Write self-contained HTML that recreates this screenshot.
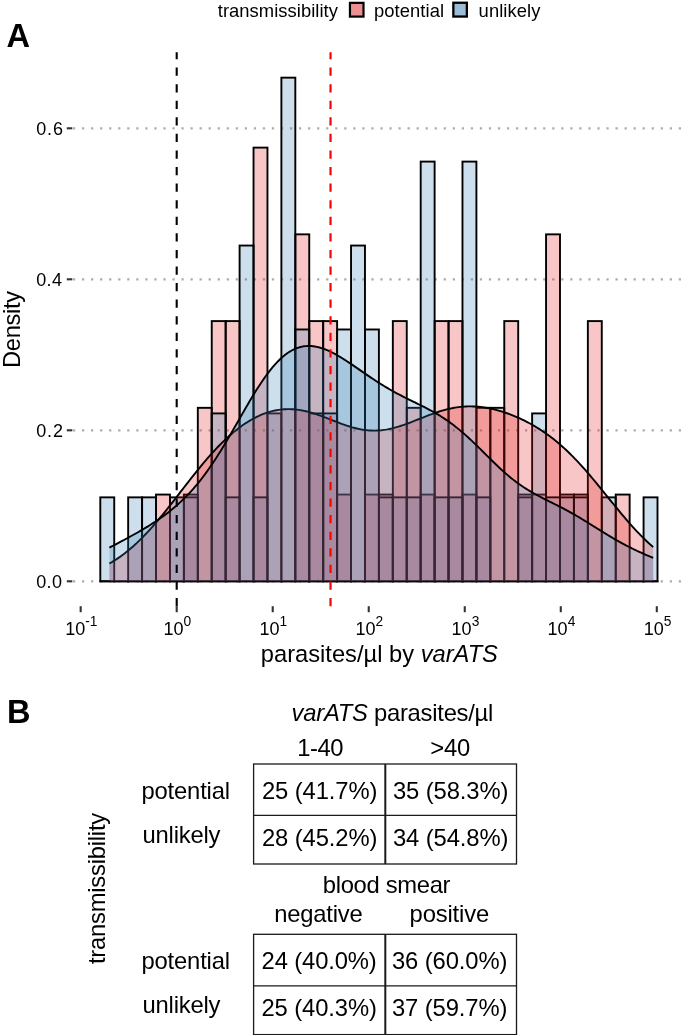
<!DOCTYPE html>
<html><head><meta charset="utf-8"><style>
html,body{margin:0;padding:0;background:#fff;}
body{width:685px;height:1035px;overflow:hidden;position:relative;}
svg{position:absolute;left:0;top:0;will-change:transform;}
text{font-family:"Liberation Sans",sans-serif;fill:#000;}
.ax{font-size:18px;fill:#000;}
.sup{font-size:13.8px;}
.ttl{font-size:23.7px;}
.leg{font-size:18.4px;}
.big{font-size:32.6px;font-weight:bold;}
.tb{font-size:23.8px;}
.it{font-style:italic;}
</style></head><body>
<svg width="685" height="1035" viewBox="0 0 685 1035">
<line x1="72.95" x2="685" y1="581.30" y2="581.30" stroke="#adadad" stroke-width="2.3" stroke-dasharray="2.26 6.782"/>
<line x1="72.95" x2="685" y1="430.30" y2="430.30" stroke="#adadad" stroke-width="2.3" stroke-dasharray="2.26 6.782"/>
<line x1="72.95" x2="685" y1="279.30" y2="279.30" stroke="#adadad" stroke-width="2.3" stroke-dasharray="2.26 6.782"/>
<line x1="72.95" x2="685" y1="128.30" y2="128.30" stroke="#adadad" stroke-width="2.3" stroke-dasharray="2.26 6.782"/>
<line x1="100.30" x2="114.23" y1="581.3" y2="581.3" stroke="#000" stroke-width="1.9" stroke-linecap="square"/>
<line x1="114.23" x2="128.16" y1="581.3" y2="581.3" stroke="#000" stroke-width="1.9" stroke-linecap="square"/>
<line x1="128.16" x2="142.09" y1="581.3" y2="581.3" stroke="#000" stroke-width="1.9" stroke-linecap="square"/>
<line x1="142.09" x2="156.02" y1="581.3" y2="581.3" stroke="#000" stroke-width="1.9" stroke-linecap="square"/>
<rect x="156.02" y="494.56" width="13.93" height="86.74" fill="rgba(228,26,28,0.25)" stroke="#000" stroke-width="1.9"/>
<line x1="169.95" x2="183.88" y1="581.3" y2="581.3" stroke="#000" stroke-width="1.9" stroke-linecap="square"/>
<rect x="183.88" y="494.56" width="13.93" height="86.74" fill="rgba(228,26,28,0.25)" stroke="#000" stroke-width="1.9"/>
<rect x="197.81" y="407.83" width="13.93" height="173.47" fill="rgba(228,26,28,0.25)" stroke="#000" stroke-width="1.9"/>
<rect x="211.74" y="321.09" width="13.93" height="260.21" fill="rgba(228,26,28,0.25)" stroke="#000" stroke-width="1.9"/>
<rect x="225.67" y="321.09" width="13.93" height="260.21" fill="rgba(228,26,28,0.25)" stroke="#000" stroke-width="1.9"/>
<line x1="239.60" x2="253.53" y1="581.3" y2="581.3" stroke="#000" stroke-width="1.9" stroke-linecap="square"/>
<rect x="253.53" y="147.61" width="13.93" height="433.69" fill="rgba(228,26,28,0.25)" stroke="#000" stroke-width="1.9"/>
<line x1="267.46" x2="281.39" y1="581.3" y2="581.3" stroke="#000" stroke-width="1.9" stroke-linecap="square"/>
<line x1="281.39" x2="295.32" y1="581.3" y2="581.3" stroke="#000" stroke-width="1.9" stroke-linecap="square"/>
<rect x="295.32" y="234.35" width="13.93" height="346.95" fill="rgba(228,26,28,0.25)" stroke="#000" stroke-width="1.9"/>
<rect x="309.25" y="321.09" width="13.93" height="260.21" fill="rgba(228,26,28,0.25)" stroke="#000" stroke-width="1.9"/>
<rect x="323.18" y="321.09" width="13.93" height="260.21" fill="rgba(228,26,28,0.25)" stroke="#000" stroke-width="1.9"/>
<rect x="337.11" y="494.56" width="13.93" height="86.74" fill="rgba(228,26,28,0.25)" stroke="#000" stroke-width="1.9"/>
<line x1="351.04" x2="364.97" y1="581.3" y2="581.3" stroke="#000" stroke-width="1.9" stroke-linecap="square"/>
<rect x="364.97" y="494.56" width="13.93" height="86.74" fill="rgba(228,26,28,0.25)" stroke="#000" stroke-width="1.9"/>
<rect x="378.90" y="494.56" width="13.93" height="86.74" fill="rgba(228,26,28,0.25)" stroke="#000" stroke-width="1.9"/>
<rect x="392.83" y="321.09" width="13.93" height="260.21" fill="rgba(228,26,28,0.25)" stroke="#000" stroke-width="1.9"/>
<rect x="406.76" y="407.83" width="13.93" height="173.47" fill="rgba(228,26,28,0.25)" stroke="#000" stroke-width="1.9"/>
<rect x="420.69" y="494.56" width="13.93" height="86.74" fill="rgba(228,26,28,0.25)" stroke="#000" stroke-width="1.9"/>
<rect x="434.62" y="321.09" width="13.93" height="260.21" fill="rgba(228,26,28,0.25)" stroke="#000" stroke-width="1.9"/>
<rect x="448.55" y="321.09" width="13.93" height="260.21" fill="rgba(228,26,28,0.25)" stroke="#000" stroke-width="1.9"/>
<rect x="462.48" y="494.56" width="13.93" height="86.74" fill="rgba(228,26,28,0.25)" stroke="#000" stroke-width="1.9"/>
<rect x="476.41" y="407.83" width="13.93" height="173.47" fill="rgba(228,26,28,0.25)" stroke="#000" stroke-width="1.9"/>
<rect x="490.34" y="407.83" width="13.93" height="173.47" fill="rgba(228,26,28,0.25)" stroke="#000" stroke-width="1.9"/>
<rect x="504.27" y="321.09" width="13.93" height="260.21" fill="rgba(228,26,28,0.25)" stroke="#000" stroke-width="1.9"/>
<rect x="518.20" y="494.56" width="13.93" height="86.74" fill="rgba(228,26,28,0.25)" stroke="#000" stroke-width="1.9"/>
<rect x="532.13" y="494.56" width="13.93" height="86.74" fill="rgba(228,26,28,0.25)" stroke="#000" stroke-width="1.9"/>
<rect x="546.06" y="234.35" width="13.93" height="346.95" fill="rgba(228,26,28,0.25)" stroke="#000" stroke-width="1.9"/>
<rect x="559.99" y="494.56" width="13.93" height="86.74" fill="rgba(228,26,28,0.25)" stroke="#000" stroke-width="1.9"/>
<rect x="573.92" y="494.56" width="13.93" height="86.74" fill="rgba(228,26,28,0.25)" stroke="#000" stroke-width="1.9"/>
<rect x="587.85" y="321.09" width="13.93" height="260.21" fill="rgba(228,26,28,0.25)" stroke="#000" stroke-width="1.9"/>
<line x1="601.78" x2="615.71" y1="581.3" y2="581.3" stroke="#000" stroke-width="1.9" stroke-linecap="square"/>
<rect x="615.71" y="494.56" width="13.93" height="86.74" fill="rgba(228,26,28,0.25)" stroke="#000" stroke-width="1.9"/>
<line x1="629.64" x2="643.57" y1="581.3" y2="581.3" stroke="#000" stroke-width="1.9" stroke-linecap="square"/>
<line x1="643.57" x2="657.50" y1="581.3" y2="581.3" stroke="#000" stroke-width="1.9" stroke-linecap="square"/>
<rect x="100.30" y="497.36" width="13.93" height="83.94" fill="rgba(55,126,184,0.25)" stroke="#000" stroke-width="1.9"/>
<line x1="114.23" x2="128.16" y1="581.3" y2="581.3" stroke="#000" stroke-width="1.9" stroke-linecap="square"/>
<rect x="128.16" y="497.36" width="13.93" height="83.94" fill="rgba(55,126,184,0.25)" stroke="#000" stroke-width="1.9"/>
<rect x="142.09" y="497.36" width="13.93" height="83.94" fill="rgba(55,126,184,0.25)" stroke="#000" stroke-width="1.9"/>
<line x1="156.02" x2="169.95" y1="581.3" y2="581.3" stroke="#000" stroke-width="1.9" stroke-linecap="square"/>
<rect x="169.95" y="497.36" width="13.93" height="83.94" fill="rgba(55,126,184,0.25)" stroke="#000" stroke-width="1.9"/>
<rect x="183.88" y="497.36" width="13.93" height="83.94" fill="rgba(55,126,184,0.25)" stroke="#000" stroke-width="1.9"/>
<line x1="197.81" x2="211.74" y1="581.3" y2="581.3" stroke="#000" stroke-width="1.9" stroke-linecap="square"/>
<rect x="211.74" y="413.42" width="13.93" height="167.88" fill="rgba(55,126,184,0.25)" stroke="#000" stroke-width="1.9"/>
<rect x="225.67" y="497.36" width="13.93" height="83.94" fill="rgba(55,126,184,0.25)" stroke="#000" stroke-width="1.9"/>
<rect x="239.60" y="245.54" width="13.93" height="335.76" fill="rgba(55,126,184,0.25)" stroke="#000" stroke-width="1.9"/>
<rect x="253.53" y="497.36" width="13.93" height="83.94" fill="rgba(55,126,184,0.25)" stroke="#000" stroke-width="1.9"/>
<rect x="267.46" y="413.42" width="13.93" height="167.88" fill="rgba(55,126,184,0.25)" stroke="#000" stroke-width="1.9"/>
<rect x="281.39" y="77.66" width="13.93" height="503.64" fill="rgba(55,126,184,0.25)" stroke="#000" stroke-width="1.9"/>
<rect x="295.32" y="329.48" width="13.93" height="251.82" fill="rgba(55,126,184,0.25)" stroke="#000" stroke-width="1.9"/>
<rect x="309.25" y="413.42" width="13.93" height="167.88" fill="rgba(55,126,184,0.25)" stroke="#000" stroke-width="1.9"/>
<rect x="323.18" y="413.42" width="13.93" height="167.88" fill="rgba(55,126,184,0.25)" stroke="#000" stroke-width="1.9"/>
<rect x="337.11" y="329.48" width="13.93" height="251.82" fill="rgba(55,126,184,0.25)" stroke="#000" stroke-width="1.9"/>
<rect x="351.04" y="245.54" width="13.93" height="335.76" fill="rgba(55,126,184,0.25)" stroke="#000" stroke-width="1.9"/>
<rect x="364.97" y="329.48" width="13.93" height="251.82" fill="rgba(55,126,184,0.25)" stroke="#000" stroke-width="1.9"/>
<rect x="378.90" y="497.36" width="13.93" height="83.94" fill="rgba(55,126,184,0.25)" stroke="#000" stroke-width="1.9"/>
<rect x="392.83" y="497.36" width="13.93" height="83.94" fill="rgba(55,126,184,0.25)" stroke="#000" stroke-width="1.9"/>
<rect x="406.76" y="497.36" width="13.93" height="83.94" fill="rgba(55,126,184,0.25)" stroke="#000" stroke-width="1.9"/>
<rect x="420.69" y="161.60" width="13.93" height="419.70" fill="rgba(55,126,184,0.25)" stroke="#000" stroke-width="1.9"/>
<rect x="434.62" y="497.36" width="13.93" height="83.94" fill="rgba(55,126,184,0.25)" stroke="#000" stroke-width="1.9"/>
<rect x="448.55" y="497.36" width="13.93" height="83.94" fill="rgba(55,126,184,0.25)" stroke="#000" stroke-width="1.9"/>
<rect x="462.48" y="161.60" width="13.93" height="419.70" fill="rgba(55,126,184,0.25)" stroke="#000" stroke-width="1.9"/>
<rect x="476.41" y="497.36" width="13.93" height="83.94" fill="rgba(55,126,184,0.25)" stroke="#000" stroke-width="1.9"/>
<line x1="490.34" x2="504.27" y1="581.3" y2="581.3" stroke="#000" stroke-width="1.9" stroke-linecap="square"/>
<line x1="504.27" x2="518.20" y1="581.3" y2="581.3" stroke="#000" stroke-width="1.9" stroke-linecap="square"/>
<rect x="518.20" y="497.36" width="13.93" height="83.94" fill="rgba(55,126,184,0.25)" stroke="#000" stroke-width="1.9"/>
<rect x="532.13" y="413.42" width="13.93" height="167.88" fill="rgba(55,126,184,0.25)" stroke="#000" stroke-width="1.9"/>
<rect x="546.06" y="497.36" width="13.93" height="83.94" fill="rgba(55,126,184,0.25)" stroke="#000" stroke-width="1.9"/>
<rect x="559.99" y="497.36" width="13.93" height="83.94" fill="rgba(55,126,184,0.25)" stroke="#000" stroke-width="1.9"/>
<rect x="573.92" y="497.36" width="13.93" height="83.94" fill="rgba(55,126,184,0.25)" stroke="#000" stroke-width="1.9"/>
<line x1="587.85" x2="601.78" y1="581.3" y2="581.3" stroke="#000" stroke-width="1.9" stroke-linecap="square"/>
<rect x="601.78" y="497.36" width="13.93" height="83.94" fill="rgba(55,126,184,0.25)" stroke="#000" stroke-width="1.9"/>
<line x1="615.71" x2="629.64" y1="581.3" y2="581.3" stroke="#000" stroke-width="1.9" stroke-linecap="square"/>
<line x1="629.64" x2="643.57" y1="581.3" y2="581.3" stroke="#000" stroke-width="1.9" stroke-linecap="square"/>
<rect x="643.57" y="497.36" width="13.93" height="83.94" fill="rgba(55,126,184,0.25)" stroke="#000" stroke-width="1.9"/>
<polygon points="109.40,581.3 109.40,563.54 111.22,562.50 113.04,561.41 114.86,560.28 116.67,559.10 118.49,557.88 120.31,556.61 122.13,555.30 123.95,553.94 125.77,552.53 127.59,551.08 129.41,549.58 131.22,548.03 133.04,546.43 134.86,544.79 136.68,543.11 138.50,541.38 140.32,539.60 142.14,537.78 143.96,535.92 145.77,534.02 147.59,532.08 149.41,530.10 151.23,528.08 153.05,526.02 154.87,523.93 156.69,521.81 158.51,519.66 160.32,517.48 162.14,515.27 163.96,513.03 165.78,510.78 167.60,508.50 169.42,506.21 171.24,503.90 173.06,501.58 174.87,499.24 176.69,496.90 178.51,494.56 180.33,492.20 182.15,489.85 183.97,487.50 185.79,485.16 187.61,482.82 189.42,480.49 191.24,478.18 193.06,475.87 194.88,473.59 196.70,471.32 198.52,469.07 200.34,466.85 202.16,464.65 203.97,462.48 205.79,460.33 207.61,458.22 209.43,456.14 211.25,454.09 213.07,452.08 214.89,450.11 216.71,448.17 218.52,446.27 220.34,444.42 222.16,442.60 223.98,440.83 225.80,439.10 227.62,437.41 229.44,435.77 231.25,434.18 233.07,432.63 234.89,431.13 236.71,429.67 238.53,428.27 240.35,426.91 242.17,425.60 243.99,424.33 245.80,423.12 247.62,421.96 249.44,420.84 251.26,419.78 253.08,418.76 254.90,417.80 256.72,416.88 258.54,416.02 260.35,415.20 262.17,414.44 263.99,413.73 265.81,413.07 267.63,412.46 269.45,411.90 271.27,411.40 273.09,410.94 274.90,410.54 276.72,410.19 278.54,409.89 280.36,409.64 282.18,409.44 284.00,409.29 285.82,409.19 287.64,409.15 289.45,409.15 291.27,409.20 293.09,409.30 294.91,409.45 296.73,409.64 298.55,409.88 300.37,410.16 302.19,410.49 304.00,410.85 305.82,411.26 307.64,411.70 309.46,412.18 311.28,412.69 313.10,413.23 314.92,413.81 316.74,414.41 318.55,415.03 320.37,415.68 322.19,416.34 324.01,417.02 325.83,417.71 327.65,418.42 329.47,419.13 331.28,419.84 333.10,420.55 334.92,421.26 336.74,421.97 338.56,422.67 340.38,423.35 342.20,424.02 344.02,424.67 345.83,425.30 347.65,425.91 349.47,426.49 351.29,427.04 353.11,427.56 354.93,428.04 356.75,428.49 358.57,428.90 360.38,429.27 362.20,429.59 364.02,429.87 365.84,430.11 367.66,430.31 369.48,430.45 371.30,430.55 373.12,430.60 374.93,430.61 376.75,430.56 378.57,430.47 380.39,430.33 382.21,430.15 384.03,429.91 385.85,429.64 387.67,429.32 389.48,428.96 391.30,428.56 393.12,428.12 394.94,427.65 396.76,427.14 398.58,426.60 400.40,426.03 402.22,425.43 404.03,424.81 405.85,424.16 407.67,423.50 409.49,422.82 411.31,422.12 413.13,421.41 414.95,420.70 416.77,419.97 418.58,419.25 420.40,418.52 422.22,417.79 424.04,417.07 425.86,416.36 427.68,415.66 429.50,414.97 431.32,414.29 433.13,413.63 434.95,412.99 436.77,412.37 438.59,411.77 440.41,411.19 442.23,410.65 444.05,410.13 445.86,409.64 447.68,409.18 449.50,408.75 451.32,408.36 453.14,408.00 454.96,407.67 456.78,407.38 458.60,407.13 460.41,406.91 462.23,406.73 464.05,406.59 465.87,406.48 467.69,406.42 469.51,406.38 471.33,406.39 473.15,406.43 474.96,406.51 476.78,406.62 478.60,406.77 480.42,406.96 482.24,407.17 484.06,407.43 485.88,407.71 487.70,408.03 489.51,408.38 491.33,408.76 493.15,409.18 494.97,409.62 496.79,410.09 498.61,410.59 500.43,411.12 502.25,411.68 504.06,412.26 505.88,412.87 507.70,413.51 509.52,414.18 511.34,414.87 513.16,415.59 514.98,416.33 516.80,417.11 518.61,417.91 520.43,418.73 522.25,419.59 524.07,420.47 525.89,421.38 527.71,422.31 529.53,423.28 531.35,424.28 533.16,425.31 534.98,426.37 536.80,427.46 538.62,428.58 540.44,429.74 542.26,430.93 544.08,432.16 545.89,433.42 547.71,434.72 549.53,436.05 551.35,437.43 553.17,438.84 554.99,440.29 556.81,441.77 558.63,443.30 560.44,444.87 562.26,446.47 564.08,448.12 565.90,449.80 567.72,451.53 569.54,453.29 571.36,455.09 573.18,456.92 574.99,458.80 576.81,460.70 578.63,462.65 580.45,464.62 582.27,466.63 584.09,468.67 585.91,470.73 587.73,472.83 589.54,474.95 591.36,477.09 593.18,479.25 595.00,481.43 596.82,483.63 598.64,485.84 600.46,488.07 602.28,490.30 604.09,492.54 605.91,494.79 607.73,497.04 609.55,499.28 611.37,501.53 613.19,503.77 615.01,506.00 616.83,508.22 618.64,510.43 620.46,512.62 622.28,514.79 624.10,516.95 625.92,519.08 627.74,521.18 629.56,523.26 631.38,525.32 633.19,527.34 635.01,529.33 636.83,531.28 638.65,533.20 640.47,535.09 642.29,536.93 644.11,538.74 645.93,540.50 647.74,542.22 649.56,543.90 651.38,545.54 653.20,547.14 653.20,581.3" fill="rgba(228,26,28,0.25)" stroke="none"/>
<polyline points="109.40,563.54 111.22,562.50 113.04,561.41 114.86,560.28 116.67,559.10 118.49,557.88 120.31,556.61 122.13,555.30 123.95,553.94 125.77,552.53 127.59,551.08 129.41,549.58 131.22,548.03 133.04,546.43 134.86,544.79 136.68,543.11 138.50,541.38 140.32,539.60 142.14,537.78 143.96,535.92 145.77,534.02 147.59,532.08 149.41,530.10 151.23,528.08 153.05,526.02 154.87,523.93 156.69,521.81 158.51,519.66 160.32,517.48 162.14,515.27 163.96,513.03 165.78,510.78 167.60,508.50 169.42,506.21 171.24,503.90 173.06,501.58 174.87,499.24 176.69,496.90 178.51,494.56 180.33,492.20 182.15,489.85 183.97,487.50 185.79,485.16 187.61,482.82 189.42,480.49 191.24,478.18 193.06,475.87 194.88,473.59 196.70,471.32 198.52,469.07 200.34,466.85 202.16,464.65 203.97,462.48 205.79,460.33 207.61,458.22 209.43,456.14 211.25,454.09 213.07,452.08 214.89,450.11 216.71,448.17 218.52,446.27 220.34,444.42 222.16,442.60 223.98,440.83 225.80,439.10 227.62,437.41 229.44,435.77 231.25,434.18 233.07,432.63 234.89,431.13 236.71,429.67 238.53,428.27 240.35,426.91 242.17,425.60 243.99,424.33 245.80,423.12 247.62,421.96 249.44,420.84 251.26,419.78 253.08,418.76 254.90,417.80 256.72,416.88 258.54,416.02 260.35,415.20 262.17,414.44 263.99,413.73 265.81,413.07 267.63,412.46 269.45,411.90 271.27,411.40 273.09,410.94 274.90,410.54 276.72,410.19 278.54,409.89 280.36,409.64 282.18,409.44 284.00,409.29 285.82,409.19 287.64,409.15 289.45,409.15 291.27,409.20 293.09,409.30 294.91,409.45 296.73,409.64 298.55,409.88 300.37,410.16 302.19,410.49 304.00,410.85 305.82,411.26 307.64,411.70 309.46,412.18 311.28,412.69 313.10,413.23 314.92,413.81 316.74,414.41 318.55,415.03 320.37,415.68 322.19,416.34 324.01,417.02 325.83,417.71 327.65,418.42 329.47,419.13 331.28,419.84 333.10,420.55 334.92,421.26 336.74,421.97 338.56,422.67 340.38,423.35 342.20,424.02 344.02,424.67 345.83,425.30 347.65,425.91 349.47,426.49 351.29,427.04 353.11,427.56 354.93,428.04 356.75,428.49 358.57,428.90 360.38,429.27 362.20,429.59 364.02,429.87 365.84,430.11 367.66,430.31 369.48,430.45 371.30,430.55 373.12,430.60 374.93,430.61 376.75,430.56 378.57,430.47 380.39,430.33 382.21,430.15 384.03,429.91 385.85,429.64 387.67,429.32 389.48,428.96 391.30,428.56 393.12,428.12 394.94,427.65 396.76,427.14 398.58,426.60 400.40,426.03 402.22,425.43 404.03,424.81 405.85,424.16 407.67,423.50 409.49,422.82 411.31,422.12 413.13,421.41 414.95,420.70 416.77,419.97 418.58,419.25 420.40,418.52 422.22,417.79 424.04,417.07 425.86,416.36 427.68,415.66 429.50,414.97 431.32,414.29 433.13,413.63 434.95,412.99 436.77,412.37 438.59,411.77 440.41,411.19 442.23,410.65 444.05,410.13 445.86,409.64 447.68,409.18 449.50,408.75 451.32,408.36 453.14,408.00 454.96,407.67 456.78,407.38 458.60,407.13 460.41,406.91 462.23,406.73 464.05,406.59 465.87,406.48 467.69,406.42 469.51,406.38 471.33,406.39 473.15,406.43 474.96,406.51 476.78,406.62 478.60,406.77 480.42,406.96 482.24,407.17 484.06,407.43 485.88,407.71 487.70,408.03 489.51,408.38 491.33,408.76 493.15,409.18 494.97,409.62 496.79,410.09 498.61,410.59 500.43,411.12 502.25,411.68 504.06,412.26 505.88,412.87 507.70,413.51 509.52,414.18 511.34,414.87 513.16,415.59 514.98,416.33 516.80,417.11 518.61,417.91 520.43,418.73 522.25,419.59 524.07,420.47 525.89,421.38 527.71,422.31 529.53,423.28 531.35,424.28 533.16,425.31 534.98,426.37 536.80,427.46 538.62,428.58 540.44,429.74 542.26,430.93 544.08,432.16 545.89,433.42 547.71,434.72 549.53,436.05 551.35,437.43 553.17,438.84 554.99,440.29 556.81,441.77 558.63,443.30 560.44,444.87 562.26,446.47 564.08,448.12 565.90,449.80 567.72,451.53 569.54,453.29 571.36,455.09 573.18,456.92 574.99,458.80 576.81,460.70 578.63,462.65 580.45,464.62 582.27,466.63 584.09,468.67 585.91,470.73 587.73,472.83 589.54,474.95 591.36,477.09 593.18,479.25 595.00,481.43 596.82,483.63 598.64,485.84 600.46,488.07 602.28,490.30 604.09,492.54 605.91,494.79 607.73,497.04 609.55,499.28 611.37,501.53 613.19,503.77 615.01,506.00 616.83,508.22 618.64,510.43 620.46,512.62 622.28,514.79 624.10,516.95 625.92,519.08 627.74,521.18 629.56,523.26 631.38,525.32 633.19,527.34 635.01,529.33 636.83,531.28 638.65,533.20 640.47,535.09 642.29,536.93 644.11,538.74 645.93,540.50 647.74,542.22 649.56,543.90 651.38,545.54 653.20,547.14" fill="none" stroke="#000" stroke-width="1.9" stroke-linejoin="round"/>
<polygon points="109.40,581.3 109.40,547.65 111.22,546.70 113.04,545.76 114.86,544.80 116.67,543.85 118.49,542.89 120.31,541.93 122.13,540.96 123.95,539.98 125.77,539.01 127.59,538.02 129.41,537.03 131.22,536.03 133.04,535.03 134.86,534.01 136.68,532.99 138.50,531.95 140.32,530.90 142.14,529.84 143.96,528.77 145.77,527.68 147.59,526.57 149.41,525.45 151.23,524.31 153.05,523.15 154.87,521.96 156.69,520.75 158.51,519.52 160.32,518.26 162.14,516.97 163.96,515.65 165.78,514.30 167.60,512.92 169.42,511.50 171.24,510.05 173.06,508.55 174.87,507.02 176.69,505.44 178.51,503.82 180.33,502.15 182.15,500.43 183.97,498.67 185.79,496.85 187.61,494.98 189.42,493.05 191.24,491.07 193.06,489.04 194.88,486.94 196.70,484.79 198.52,482.57 200.34,480.30 202.16,477.96 203.97,475.57 205.79,473.11 207.61,470.60 209.43,468.02 211.25,465.39 213.07,462.70 214.89,459.95 216.71,457.15 218.52,454.30 220.34,451.40 222.16,448.45 223.98,445.46 225.80,442.43 227.62,439.37 229.44,436.27 231.25,433.15 233.07,430.00 234.89,426.84 236.71,423.67 238.53,420.49 240.35,417.30 242.17,414.13 243.99,410.96 245.80,407.81 247.62,404.69 249.44,401.59 251.26,398.53 253.08,395.51 254.90,392.54 256.72,389.62 258.54,386.76 260.35,383.97 262.17,381.25 263.99,378.61 265.81,376.04 267.63,373.57 269.45,371.18 271.27,368.89 273.09,366.70 274.90,364.60 276.72,362.62 278.54,360.74 280.36,358.97 282.18,357.32 284.00,355.77 285.82,354.34 287.64,353.03 289.45,351.83 291.27,350.75 293.09,349.78 294.91,348.93 296.73,348.18 298.55,347.55 300.37,347.03 302.19,346.61 304.00,346.30 305.82,346.10 307.64,345.99 309.46,345.97 311.28,346.05 313.10,346.22 314.92,346.48 316.74,346.82 318.55,347.24 320.37,347.73 322.19,348.30 324.01,348.94 325.83,349.63 327.65,350.39 329.47,351.21 331.28,352.08 333.10,353.00 334.92,353.96 336.74,354.97 338.56,356.02 340.38,357.10 342.20,358.21 344.02,359.35 345.83,360.52 347.65,361.71 349.47,362.91 351.29,364.14 353.11,365.37 354.93,366.62 356.75,367.87 358.57,369.13 360.38,370.39 362.20,371.65 364.02,372.90 365.84,374.15 367.66,375.40 369.48,376.63 371.30,377.86 373.12,379.07 374.93,380.27 376.75,381.46 378.57,382.62 380.39,383.77 382.21,384.91 384.03,386.02 385.85,387.12 387.67,388.19 389.48,389.25 391.30,390.29 393.12,391.31 394.94,392.31 396.76,393.29 398.58,394.26 400.40,395.21 402.22,396.15 404.03,397.08 405.85,397.99 407.67,398.90 409.49,399.79 411.31,400.68 413.13,401.57 414.95,402.46 416.77,403.35 418.58,404.24 420.40,405.14 422.22,406.04 424.04,406.96 425.86,407.88 427.68,408.83 429.50,409.79 431.32,410.77 433.13,411.77 434.95,412.80 436.77,413.86 438.59,414.94 440.41,416.05 442.23,417.20 444.05,418.38 445.86,419.59 447.68,420.84 449.50,422.12 451.32,423.45 453.14,424.81 454.96,426.21 456.78,427.64 458.60,429.12 460.41,430.62 462.23,432.17 464.05,433.75 465.87,435.36 467.69,437.01 469.51,438.68 471.33,440.38 473.15,442.10 474.96,443.85 476.78,445.61 478.60,447.39 480.42,449.18 482.24,450.98 484.06,452.79 485.88,454.60 487.70,456.40 489.51,458.20 491.33,459.99 493.15,461.77 494.97,463.53 496.79,465.28 498.61,467.00 500.43,468.69 502.25,470.35 504.06,471.99 505.88,473.59 507.70,475.15 509.52,476.68 511.34,478.17 513.16,479.62 514.98,481.03 516.80,482.40 518.61,483.73 520.43,485.02 522.25,486.27 524.07,487.48 525.89,488.65 527.71,489.79 529.53,490.90 531.35,491.97 533.16,493.01 534.98,494.03 536.80,495.02 538.62,495.99 540.44,496.94 542.26,497.88 544.08,498.80 545.89,499.72 547.71,500.62 549.53,501.53 551.35,502.43 553.17,503.33 554.99,504.24 556.81,505.15 558.63,506.07 560.44,507.00 562.26,507.94 564.08,508.89 565.90,509.86 567.72,510.84 569.54,511.84 571.36,512.85 573.18,513.87 574.99,514.91 576.81,515.97 578.63,517.04 580.45,518.12 582.27,519.22 584.09,520.32 585.91,521.44 587.73,522.56 589.54,523.69 591.36,524.83 593.18,525.97 595.00,527.11 596.82,528.25 598.64,529.39 600.46,530.52 602.28,531.66 604.09,532.78 605.91,533.90 607.73,535.00 609.55,536.10 611.37,537.18 613.19,538.26 615.01,539.31 616.83,540.36 618.64,541.38 620.46,542.40 622.28,543.39 624.10,544.37 625.92,545.33 627.74,546.27 629.56,547.20 631.38,548.11 633.19,549.00 635.01,549.88 636.83,550.74 638.65,551.59 640.47,552.42 642.29,553.23 644.11,554.03 645.93,554.82 647.74,555.59 649.56,556.35 651.38,557.10 653.20,557.84 653.20,581.3" fill="rgba(55,126,184,0.25)" stroke="none"/>
<polyline points="109.40,547.65 111.22,546.70 113.04,545.76 114.86,544.80 116.67,543.85 118.49,542.89 120.31,541.93 122.13,540.96 123.95,539.98 125.77,539.01 127.59,538.02 129.41,537.03 131.22,536.03 133.04,535.03 134.86,534.01 136.68,532.99 138.50,531.95 140.32,530.90 142.14,529.84 143.96,528.77 145.77,527.68 147.59,526.57 149.41,525.45 151.23,524.31 153.05,523.15 154.87,521.96 156.69,520.75 158.51,519.52 160.32,518.26 162.14,516.97 163.96,515.65 165.78,514.30 167.60,512.92 169.42,511.50 171.24,510.05 173.06,508.55 174.87,507.02 176.69,505.44 178.51,503.82 180.33,502.15 182.15,500.43 183.97,498.67 185.79,496.85 187.61,494.98 189.42,493.05 191.24,491.07 193.06,489.04 194.88,486.94 196.70,484.79 198.52,482.57 200.34,480.30 202.16,477.96 203.97,475.57 205.79,473.11 207.61,470.60 209.43,468.02 211.25,465.39 213.07,462.70 214.89,459.95 216.71,457.15 218.52,454.30 220.34,451.40 222.16,448.45 223.98,445.46 225.80,442.43 227.62,439.37 229.44,436.27 231.25,433.15 233.07,430.00 234.89,426.84 236.71,423.67 238.53,420.49 240.35,417.30 242.17,414.13 243.99,410.96 245.80,407.81 247.62,404.69 249.44,401.59 251.26,398.53 253.08,395.51 254.90,392.54 256.72,389.62 258.54,386.76 260.35,383.97 262.17,381.25 263.99,378.61 265.81,376.04 267.63,373.57 269.45,371.18 271.27,368.89 273.09,366.70 274.90,364.60 276.72,362.62 278.54,360.74 280.36,358.97 282.18,357.32 284.00,355.77 285.82,354.34 287.64,353.03 289.45,351.83 291.27,350.75 293.09,349.78 294.91,348.93 296.73,348.18 298.55,347.55 300.37,347.03 302.19,346.61 304.00,346.30 305.82,346.10 307.64,345.99 309.46,345.97 311.28,346.05 313.10,346.22 314.92,346.48 316.74,346.82 318.55,347.24 320.37,347.73 322.19,348.30 324.01,348.94 325.83,349.63 327.65,350.39 329.47,351.21 331.28,352.08 333.10,353.00 334.92,353.96 336.74,354.97 338.56,356.02 340.38,357.10 342.20,358.21 344.02,359.35 345.83,360.52 347.65,361.71 349.47,362.91 351.29,364.14 353.11,365.37 354.93,366.62 356.75,367.87 358.57,369.13 360.38,370.39 362.20,371.65 364.02,372.90 365.84,374.15 367.66,375.40 369.48,376.63 371.30,377.86 373.12,379.07 374.93,380.27 376.75,381.46 378.57,382.62 380.39,383.77 382.21,384.91 384.03,386.02 385.85,387.12 387.67,388.19 389.48,389.25 391.30,390.29 393.12,391.31 394.94,392.31 396.76,393.29 398.58,394.26 400.40,395.21 402.22,396.15 404.03,397.08 405.85,397.99 407.67,398.90 409.49,399.79 411.31,400.68 413.13,401.57 414.95,402.46 416.77,403.35 418.58,404.24 420.40,405.14 422.22,406.04 424.04,406.96 425.86,407.88 427.68,408.83 429.50,409.79 431.32,410.77 433.13,411.77 434.95,412.80 436.77,413.86 438.59,414.94 440.41,416.05 442.23,417.20 444.05,418.38 445.86,419.59 447.68,420.84 449.50,422.12 451.32,423.45 453.14,424.81 454.96,426.21 456.78,427.64 458.60,429.12 460.41,430.62 462.23,432.17 464.05,433.75 465.87,435.36 467.69,437.01 469.51,438.68 471.33,440.38 473.15,442.10 474.96,443.85 476.78,445.61 478.60,447.39 480.42,449.18 482.24,450.98 484.06,452.79 485.88,454.60 487.70,456.40 489.51,458.20 491.33,459.99 493.15,461.77 494.97,463.53 496.79,465.28 498.61,467.00 500.43,468.69 502.25,470.35 504.06,471.99 505.88,473.59 507.70,475.15 509.52,476.68 511.34,478.17 513.16,479.62 514.98,481.03 516.80,482.40 518.61,483.73 520.43,485.02 522.25,486.27 524.07,487.48 525.89,488.65 527.71,489.79 529.53,490.90 531.35,491.97 533.16,493.01 534.98,494.03 536.80,495.02 538.62,495.99 540.44,496.94 542.26,497.88 544.08,498.80 545.89,499.72 547.71,500.62 549.53,501.53 551.35,502.43 553.17,503.33 554.99,504.24 556.81,505.15 558.63,506.07 560.44,507.00 562.26,507.94 564.08,508.89 565.90,509.86 567.72,510.84 569.54,511.84 571.36,512.85 573.18,513.87 574.99,514.91 576.81,515.97 578.63,517.04 580.45,518.12 582.27,519.22 584.09,520.32 585.91,521.44 587.73,522.56 589.54,523.69 591.36,524.83 593.18,525.97 595.00,527.11 596.82,528.25 598.64,529.39 600.46,530.52 602.28,531.66 604.09,532.78 605.91,533.90 607.73,535.00 609.55,536.10 611.37,537.18 613.19,538.26 615.01,539.31 616.83,540.36 618.64,541.38 620.46,542.40 622.28,543.39 624.10,544.37 625.92,545.33 627.74,546.27 629.56,547.20 631.38,548.11 633.19,549.00 635.01,549.88 636.83,550.74 638.65,551.59 640.47,552.42 642.29,553.23 644.11,554.03 645.93,554.82 647.74,555.59 649.56,556.35 651.38,557.10 653.20,557.84" fill="none" stroke="#000" stroke-width="1.9" stroke-linejoin="round"/>
<line x1="176.7" x2="176.7" y1="606.2" y2="52.2" stroke="#000" stroke-width="2.1" stroke-dasharray="8.25 8.325"/>
<line x1="330.53" x2="330.53" y1="606.2" y2="52.2" stroke="#ff0000" stroke-width="2.2" stroke-dasharray="8.25 8.325"/>
<line x1="66.8" x2="72.3" y1="581.30" y2="581.30" stroke="#333" stroke-width="2.1"/>
<line x1="66.8" x2="72.3" y1="430.30" y2="430.30" stroke="#333" stroke-width="2.1"/>
<line x1="66.8" x2="72.3" y1="279.30" y2="279.30" stroke="#333" stroke-width="2.1"/>
<line x1="66.8" x2="72.3" y1="128.30" y2="128.30" stroke="#333" stroke-width="2.1"/>
<line x1="80.68" x2="80.68" y1="606.2" y2="612.2" stroke="#333" stroke-width="2.1"/>
<text x="81.38" y="634.5" text-anchor="middle" class="ax">10<tspan class="sup" dy="-8.8">-1</tspan></text>
<line x1="176.70" x2="176.70" y1="606.2" y2="612.2" stroke="#333" stroke-width="2.1"/>
<text x="177.40" y="634.5" text-anchor="middle" class="ax">10<tspan class="sup" dy="-8.8">0</tspan></text>
<line x1="272.72" x2="272.72" y1="606.2" y2="612.2" stroke="#333" stroke-width="2.1"/>
<text x="273.42" y="634.5" text-anchor="middle" class="ax">10<tspan class="sup" dy="-8.8">1</tspan></text>
<line x1="368.74" x2="368.74" y1="606.2" y2="612.2" stroke="#333" stroke-width="2.1"/>
<text x="369.44" y="634.5" text-anchor="middle" class="ax">10<tspan class="sup" dy="-8.8">2</tspan></text>
<line x1="464.76" x2="464.76" y1="606.2" y2="612.2" stroke="#333" stroke-width="2.1"/>
<text x="465.46" y="634.5" text-anchor="middle" class="ax">10<tspan class="sup" dy="-8.8">3</tspan></text>
<line x1="560.78" x2="560.78" y1="606.2" y2="612.2" stroke="#333" stroke-width="2.1"/>
<text x="561.48" y="634.5" text-anchor="middle" class="ax">10<tspan class="sup" dy="-8.8">4</tspan></text>
<line x1="656.80" x2="656.80" y1="606.2" y2="612.2" stroke="#333" stroke-width="2.1"/>
<text x="657.50" y="634.5" text-anchor="middle" class="ax">10<tspan class="sup" dy="-8.8">5</tspan></text>
<text id="A" x="6.60" y="46.70" class="big">A</text>
<text id="B" x="7.00" y="723.00" class="big">B</text>
<text id="leg_trans" x="217.80" y="16.80" class="leg" textLength="120.06" lengthAdjust="spacing">transmissibility</text>
<text id="leg_pot" x="374.00" y="16.80" class="leg" textLength="70.03" lengthAdjust="spacing">potential</text>
<text id="leg_unl" x="478.60" y="16.80" class="leg" textLength="61.84" lengthAdjust="spacing">unlikely</text>
<text id="y00" x="36.20" y="587.90" class="ax" textLength="25.73" lengthAdjust="spacing">0.0</text>
<text id="y02" x="36.20" y="436.90" class="ax" textLength="26.73" lengthAdjust="spacing">0.2</text>
<text id="y04" x="36.20" y="285.90" class="ax" textLength="25.73" lengthAdjust="spacing">0.4</text>
<text id="y06" x="36.20" y="134.90" class="ax" textLength="26.73" lengthAdjust="spacing">0.6</text>
<text id="xtitle" x="260.80" y="662.00" class="ttl" textLength="237.12" lengthAdjust="spacing">parasites/µl by <tspan class="it">varATS</tspan></text>
<text id="hdr1" x="291.60" y="721.10" class="tb" textLength="201.76" lengthAdjust="spacing"><tspan class="it">varATS</tspan> parasites/µl</text>
<text id="h140" x="297.20" y="755.80" class="tb" textLength="46.24" lengthAdjust="spacing">1-40</text>
<text id="hgt40" x="430.20" y="755.80" class="tb" textLength="39.97" lengthAdjust="spacing">&gt;40</text>
<text id="pot1" x="141.40" y="798.60" class="tb" textLength="88.68" lengthAdjust="spacing">potential</text>
<text id="unl1" x="142.60" y="842.80" class="tb" textLength="77.77" lengthAdjust="spacing">unlikely</text>
<text id="c11" x="262.00" y="798.80" class="tb" textLength="115.41" lengthAdjust="spacing">25 (41.7%)</text>
<text id="c12" x="393.00" y="798.80" class="tb" textLength="115.41" lengthAdjust="spacing">35 (58.3%)</text>
<text id="c21" x="262.00" y="846.00" class="tb" textLength="115.41" lengthAdjust="spacing">28 (45.2%)</text>
<text id="c22" x="393.00" y="846.00" class="tb" textLength="115.41" lengthAdjust="spacing">34 (54.8%)</text>
<text id="blood" x="322.80" y="893.40" class="tb" textLength="127.75" lengthAdjust="spacing">blood smear</text>
<text id="neg" x="274.20" y="921.80" class="tb" textLength="88.58" lengthAdjust="spacing">negative</text>
<text id="pos" x="409.60" y="921.80" class="tb" textLength="79.59" lengthAdjust="spacing">positive</text>
<text id="pot2" x="141.40" y="968.60" class="tb" textLength="88.68" lengthAdjust="spacing">potential</text>
<text id="unl2" x="142.60" y="1012.80" class="tb" textLength="77.77" lengthAdjust="spacing">unlikely</text>
<text id="d11" x="261.60" y="968.70" class="tb" textLength="115.21" lengthAdjust="spacing">24 (40.0%)</text>
<text id="d12" x="392.00" y="968.70" class="tb" textLength="115.41" lengthAdjust="spacing">36 (60.0%)</text>
<text id="d21" x="261.40" y="1016.20" class="tb" textLength="115.61" lengthAdjust="spacing">25 (40.3%)</text>
<text id="d22" x="392.00" y="1016.20" class="tb" textLength="115.41" lengthAdjust="spacing">37 (59.7%)</text>
<text id="Density" x="0" y="0" class="ttl" textLength="77.20" lengthAdjust="spacing" transform="translate(19.70 368.00) rotate(-90)">Density</text>
<text id="trans_rot" x="0" y="0" class="tb" textLength="151.20" lengthAdjust="spacing" transform="translate(104.50 964.00) rotate(-90)">transmissibility</text>
<rect x="349.95" y="2.85" width="13.55" height="13.75" fill="rgb(234,144,147)" stroke="#000" stroke-width="2.2"/>
<rect x="453.35" y="2.75" width="13.5" height="13.8" fill="rgb(157,189,214)" stroke="#000" stroke-width="2.3"/>
<g stroke="#1a1a1a" stroke-width="1.3" fill="none">
<rect x="253.6" y="764" width="262.9" height="100"/>
<line x1="253.6" x2="516.5" y1="815.3" y2="815.3"/>
<line x1="385.3" x2="385.3" y1="764" y2="864" stroke-width="2"/>
<rect x="253.6" y="934.3" width="262.9" height="100.3"/>
<line x1="253.6" x2="516.5" y1="985.9" y2="985.9"/>
<line x1="385.3" x2="385.3" y1="934.3" y2="1035" stroke-width="2"/>
</g>
</svg>
</body></html>
